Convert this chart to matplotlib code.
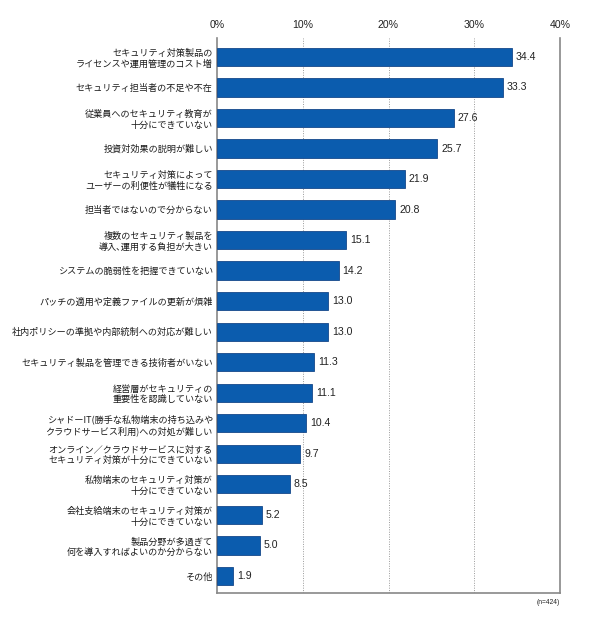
import matplotlib
matplotlib.use("Agg")
import matplotlib.pyplot as plt

plt.rcParams['font.family'] = ['Noto Sans CJK JP', 'DejaVu Sans']

categories = [
    "セキュリティ対策製品の\nライセンスや運用管理のコスト増",
    "セキュリティ担当者の不足や不在",
    "従業員へのセキュリティ教育が\n十分にできていない",
    "投資対効果の説明が難しい",
    "セキュリティ対策によって\nユーザーの利便性が犠牲になる",
    "担当者ではないので分からない",
    "複数のセキュリティ製品を\n導入､運用する負担が大きい",
    "システムの脆弱性を把握できていない",
    "パッチの適用や定義ファイルの更新が煩雑",
    "社内ポリシーの準拠や内部統制への対応が難しい",
    "セキュリティ製品を管理できる技術者がいない",
    "経営層がセキュリティの\n重要性を認識していない",
    "シャドーIT(勝手な私物端末の持ち込みや\nクラウドサービス利用)への対処が難しい",
    "オンライン／クラウドサービスに対する\nセキュリティ対策が十分にできていない",
    "私物端末のセキュリティ対策が\n十分にできていない",
    "会社支給端末のセキュリティ対策が\n十分にできていない",
    "製品分野が多過ぎて\n何を導入すればよいのか分からない",
    "その他",
]
values = [34.4, 33.3, 27.6, 25.7, 21.9, 20.8, 15.1, 14.2, 13.0, 13.0,
          11.3, 11.1, 10.4, 9.7, 8.5, 5.2, 5.0, 1.9]
xticks = [0, 10, 20, 30, 40]
xticklabels = ["0%", "10%", "20%", "30%", "40%"]
note = "(n=424)"

fig = plt.figure(figsize=(5.90, 6.25), dpi=100)
ax = fig.add_axes([217/590, 1-593/625, (560-217)/590, (593-38)/625])

ypos = list(range(len(values)))
ax.barh(ypos, values, height=0.6, color='#0b5cae', edgecolor='#16488a',
        linewidth=0.6, zorder=3)
for y, v in zip(ypos, values):
    ax.text(v + 0.45, y, f"{v:.1f}", va='center', ha='left', fontsize=7.6,
            color='#222222', family=['Liberation Sans', 'DejaVu Sans'])

ax.set_xlim(0, 40)
ax.set_ylim(len(values) - 1 + 0.56, -0.62)
ax.set_yticks(ypos)
ax.set_yticklabels(categories, fontsize=6.55, color='#1a1a1a', linespacing=1.22)
ax.set_xticks(xticks)
ax.set_xticklabels(xticklabels, fontsize=7.6, color='#222222',
                   family=['Liberation Sans', 'DejaVu Sans'])
ax.xaxis.tick_top()
ax.tick_params(axis='both', length=0)
ax.tick_params(axis='x', pad=6)
ax.tick_params(axis='y', pad=3)

for x in xticks[1:-1]:
    ax.axvline(x, color='#999999', linestyle=(0, (1, 1.5)), linewidth=0.7, zorder=1)

for s in ['left', 'right', 'bottom']:
    ax.spines[s].set_color('#888888')
    ax.spines[s].set_linewidth(1.2)
ax.spines['top'].set_visible(False)

fig.text(560/590, 1-603/625, note, ha='right', va='center', fontsize=4.8,
         color='#222222', family=['Liberation Sans', 'DejaVu Sans'])

fig.savefig("out.png", dpi=100, facecolor='white')
